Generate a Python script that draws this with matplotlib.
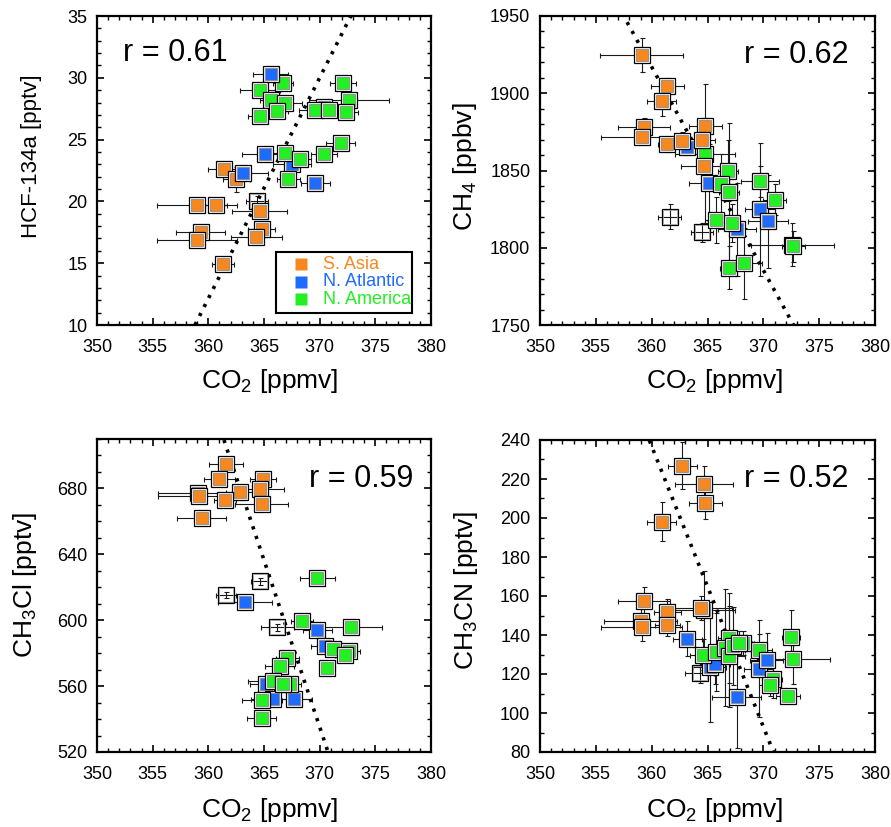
import matplotlib
matplotlib.use("Agg")
import matplotlib.pyplot as plt
from matplotlib.ticker import MultipleLocator
from matplotlib.patches import Rectangle

plt.rcParams['font.family'] = ['Liberation Sans', 'DejaVu Sans']
plt.rcParams['mathtext.fontset'] = 'custom'
plt.rcParams['mathtext.rm'] = 'Liberation Sans'
plt.rcParams['mathtext.it'] = 'Liberation Sans:italic'
plt.rcParams['mathtext.default'] = 'regular'

# ---------------- data ----------------
regions = ['S. Asia', 'N. Atlantic', 'N. America']
region_colors = ['#F7871F', '#1F6BFF', '#22F022']

# Panel 1: HCF-134a vs CO2
tl_sa_x = [361.4, 362.5, 359.0, 360.7, 364.6, 359.3, 359.0, 364.8, 364.3, 361.3]
tl_sa_y = [22.6, 21.8, 19.7, 19.7, 19.2, 17.5, 16.9, 17.8, 17.1, 14.9]
tl_sa_xe = [1.4, 1.2, 3.6, 1.0, 2.5, 2.2, 3.6, 1.2, 2.3, 1.0]
tl_sa_ye = [0.4, 1.0, 0.3, 0.4, 0.5, 0.4, 0.3, 0.4, 0.4, 0.3]
tl_na_x = [370.4, 365.6, 365.1, 363.1, 367.5, 369.6]
tl_na_y = [27.6, 30.3, 23.8, 22.3, 23.0, 21.5]
tl_na_xe = [1.0, 1.6, 2.1, 2.3, 1.7, 1.3]
tl_na_ye = [0.3, 0.3, 0.4, 0.4, 0.5, 0.3]
tl_am_x = [366.7, 364.6, 365.6, 366.9, 366.2, 364.6, 369.6, 370.8, 372.1, 372.6, 372.4, 366.9, 368.2, 370.4, 371.9, 367.2]
tl_am_y = [29.6, 29.0, 28.2, 28.0, 27.3, 26.9, 27.4, 27.4, 29.6, 28.2, 27.2, 23.9, 23.4, 23.8, 24.7, 21.8]
tl_am_xe = [0.9, 1.8, 1.0, 1.5, 1.0, 1.0, 1.5, 1.0, 1.2, 3.6, 1.0, 1.6, 1.0, 1.2, 1.3, 1.0]
tl_am_ye = [0.3, 0.3, 0.3, 0.3, 0.3, 0.3, 0.3, 0.3, 0.3, 0.3, 0.3, 0.3, 0.3, 0.3, 0.3, 0.3]
tl_op_x = [364.4]
tl_op_y = [20.0]
tl_op_xe = [1.0]
tl_op_ye = [0.4]
tl_fit_x = [358.8, 372.8]
tl_fit_y = [10.0, 35.0]

# Panel 2: CH4 vs CO2
tr_sa_x = [359.1, 361.4, 360.9, 359.3, 359.1, 361.4, 362.7, 364.8, 364.5, 364.7]
tr_sa_y = [1925, 1905, 1895, 1878, 1872, 1867, 1869, 1879, 1870, 1853]
tr_sa_xe = [3.7, 1.5, 1.3, 2.3, 3.6, 0.8, 1.0, 1.5, 1.2, 2.1]
tr_sa_ye = [11, 5, 10, 6, 5, 5, 6, 5, 5, 5]
tr_na_x = [363.2, 365.1, 369.7, 370.4, 367.6]
tr_na_y = [1865, 1842, 1825, 1817, 1812]
tr_na_xe = [1.5, 1.8, 1.3, 1.8, 1.7]
tr_na_ye = [5, 25, 43, 30, 30]
tr_am_x = [364.8, 366.8, 366.2, 366.9, 369.7, 371.0, 365.8, 367.2, 372.6, 372.7, 366.9, 368.3]
tr_am_y = [1861, 1850, 1841, 1836, 1843, 1831, 1818, 1816, 1802, 1801, 1787, 1790]
tr_am_xe = [2.7, 0.9, 1.4, 0.9, 1.7, 1.0, 1.0, 1.1, 3.7, 1.0, 0.8, 1.6]
tr_am_ye = [45, 20, 20, 45, 10, 10, 15, 12, 14, 10, 14, 23]
tr_op_x = [361.6, 364.5]
tr_op_y = [1820, 1810]
tr_op_xe = [1.0, 1.0]
tr_op_ye = [8, 6]
tr_fit_x = [357.8, 372.7]
tr_fit_y = [1946, 1750]

# Panel 3: CH3Cl vs CO2
bl_sa_x = [361.6, 361.0, 364.9, 359.1, 359.2, 362.8, 364.6, 361.5, 364.8, 359.4]
bl_sa_y = [695.0, 685.5, 685.5, 677.4, 675.4, 678.0, 679.4, 673.0, 670.7, 661.8]
bl_sa_xe = [1.5, 1.4, 1.2, 3.6, 3.7, 1.2, 2.2, 1.0, 2.4, 2.2]
bl_sa_ye = [3, 3, 3, 3, 3, 3, 3, 3, 3, 3]
bl_na_x = [363.3, 369.8, 370.5, 365.2, 365.8, 367.7]
bl_na_y = [610.8, 594.1, 584.6, 561.0, 552.3, 552.3]
bl_na_xe = [2.4, 1.3, 1.3, 1.5, 2.0, 1.6]
bl_na_ye = [2, 2, 2, 2, 2, 2]
bl_am_x = [369.8, 368.4, 372.8, 371.2, 372.6, 372.3, 370.7, 367.1, 366.4, 365.8, 367.3, 366.7, 364.8, 364.8]
bl_am_y = [625.5, 599.7, 595.7, 582.6, 581.5, 579.1, 571.0, 577.1, 572.5, 563.4, 561.0, 561.0, 551.7, 540.8]
bl_am_xe = [1.6, 1.0, 2.8, 1.0, 1.0, 0.9, 0.7, 1.0, 1.3, 2.2, 1.0, 1.0, 1.8, 1.3]
bl_am_ye = [2, 2, 2, 2, 2, 2, 2, 2, 2, 2, 2, 2, 2, 2]
bl_op_x = [364.6, 361.6, 366.2]
bl_op_y = [623.5, 615.4, 595.7]
bl_op_xe = [0.8, 0.9, 1.5]
bl_op_ye = [2, 2, 2]
bl_fit_x = [361.4, 370.75]
bl_fit_y = [709.4, 520.0]

# Panel 4: CH3CN vs CO2
br_sa_x = [362.75, 364.7, 364.8, 360.9, 359.3, 361.4, 361.4, 359.0, 359.1, 364.4]
br_sa_y = [226.9, 217.5, 207.6, 198.2, 157.6, 151.6, 145.3, 147.4, 144.0, 153.9]
br_sa_xe = [1.3, 2.6, 1.5, 1.3, 2.3, 1.2, 1.1, 3.3, 3.6, 2.8]
br_sa_ye = [12, 9, 8, 10, 7, 7, 6, 7, 7, 6]
br_na_x = [363.2, 365.2, 365.7, 367.6, 369.6, 370.3]
br_na_y = [138.2, 123.5, 124.9, 108.3, 122.8, 127.1]
br_na_xe = [1.3, 1.5, 1.3, 2.2, 1.3, 1.5]
br_na_ye = [9, 28, 10, 26, 25, 14]
br_am_x = [364.7, 372.5, 372.7, 369.6, 368.2, 366.9, 364.6, 365.8, 366.6, 366.9, 367.3, 367.8, 370.9, 370.6, 372.2]
br_am_y = [153.0, 139.0, 127.8, 132.5, 136.0, 138.5, 130.0, 131.2, 133.4, 129.0, 134.6, 136.0, 117.5, 114.6, 108.7]
br_am_xe = [2.8, 0.8, 3.3, 1.2, 1.0, 1.0, 1.2, 1.0, 1.0, 1.5, 1.0, 1.2, 0.8, 1.0, 1.1]
br_am_ye = [20, 14, 13, 8, 6, 23, 8, 20, 30, 26, 20, 6, 10, 6, 3]
br_op_x = [364.3]
br_op_y = [120.6]
br_op_xe = [1.3]
br_op_ye = [5]
br_fit_x = [359.8, 370.9]
br_fit_y = [239.7, 80.0]

r_labels = ['r = 0.61', 'r = 0.62', 'r = 0.59', 'r = 0.52']
y_labels = ['HCF-134a [pptv]', 'CH$_4$ [ppbv]', 'CH$_3$Cl [pptv]', 'CH$_3$CN [pptv]']
x_label = 'CO$_2$ [ppmv]'
x_lim = (350, 380)
y_lims = [(10, 35), (1750, 1950), (520, 710), (80, 240)]
y_major = [5, 50, 40, 20]
y_minor = [1, 10, 10, 10]

# ---------------- layout (pixels) ----------------
W, H = 891, 827
fig = plt.figure(figsize=(W / 100, H / 100), dpi=100)

boxes = [(97, 431, 16, 325), (540, 875, 16, 325), (97, 431, 439, 752), (540, 875, 440, 752)]


def fx(px):
    return px / W


def fy(py):
    return 1 - py / H


panels = [
    [(tl_sa_x, tl_sa_y, tl_sa_xe, tl_sa_ye), (tl_na_x, tl_na_y, tl_na_xe, tl_na_ye),
     (tl_am_x, tl_am_y, tl_am_xe, tl_am_ye), (tl_op_x, tl_op_y, tl_op_xe, tl_op_ye), (tl_fit_x, tl_fit_y)],
    [(tr_sa_x, tr_sa_y, tr_sa_xe, tr_sa_ye), (tr_na_x, tr_na_y, tr_na_xe, tr_na_ye),
     (tr_am_x, tr_am_y, tr_am_xe, tr_am_ye), (tr_op_x, tr_op_y, tr_op_xe, tr_op_ye), (tr_fit_x, tr_fit_y)],
    [(bl_sa_x, bl_sa_y, bl_sa_xe, bl_sa_ye), (bl_na_x, bl_na_y, bl_na_xe, bl_na_ye),
     (bl_am_x, bl_am_y, bl_am_xe, bl_am_ye), (bl_op_x, bl_op_y, bl_op_xe, bl_op_ye), (bl_fit_x, bl_fit_y)],
    [(br_sa_x, br_sa_y, br_sa_xe, br_sa_ye), (br_na_x, br_na_y, br_na_xe, br_na_ye),
     (br_am_x, br_am_y, br_am_xe, br_am_ye), (br_op_x, br_op_y, br_op_xe, br_op_ye), (br_fit_x, br_fit_y)],
]

r_pos = [(123, 61, 'left'), (848, 63, 'right'), (309, 487, 'left'), (848, 487, 'right')]
ylab_pos = [(37, 156, 16), (472, 167, 19), (32, 585, 19), (473, 590, 19)]
xlab_pos = [(270, 388), (715, 388), (270, 817), (715, 817)]

ecol = '#1a1a1a'

for k, (l, r, t, b) in enumerate(boxes):
    ax = fig.add_axes([fx(l), fy(b), fx(r) - fx(l), (b - t) / H])
    groups = panels[k]
    # error bars
    for g in range(4):
        gx, gy, gxe, gye = groups[g]
        ax.errorbar(gx, gy, xerr=gxe, yerr=gye, fmt='none', ecolor=ecol,
                    elinewidth=0.8, capsize=1.8, capthick=0.8, zorder=2)
    # fit line
    fitx, fity = groups[4]
    ax.plot(fitx, fity, color='black', lw=2.6, linestyle=(0, (0.9, 1.9)),
            dash_capstyle='butt', zorder=3)
    # open squares
    ox, oy = groups[3][0], groups[3][1]
    for i in range(len(ox)):
        ax.plot([ox[i]], [oy[i]], 's', ms=11.5, mfc='none', mec='black', mew=0.9, zorder=4)
        ax.plot([ox[i]], [oy[i]], 's', ms=9.8, mfc='none', mec='#9a9a9a', mew=0.6, zorder=4)
    # filled squares
    for g in range(3):
        gx, gy = groups[g][0], groups[g][1]
        for i in range(len(gx)):
            z = 5 + 0.01 * i
            ax.plot([gx[i]], [gy[i]], 's', ms=11.5, mfc='white', mec='black', mew=0.9, zorder=z)
            ax.plot([gx[i]], [gy[i]], 's', ms=9.3, mfc=region_colors[g], mec='#8a8a8a',
                    mew=0.6, zorder=z + 0.001)

    ax.set_xlim(*x_lim)
    ax.set_ylim(*y_lims[k])
    ax.xaxis.set_major_locator(MultipleLocator(5))
    ax.xaxis.set_minor_locator(MultipleLocator(1))
    ax.yaxis.set_major_locator(MultipleLocator(y_major[k]))
    ax.yaxis.set_minor_locator(MultipleLocator(y_minor[k]))
    ax.tick_params(which='both', direction='in', top=True, right=True, labelsize=13)
    ax.tick_params(which='major', length=5, width=1.2)
    ax.tick_params(which='minor', length=3, width=1.0)
    ax.tick_params(axis='x', which='major', pad=10)
    ax.tick_params(axis='y', which='major', pad=7)
    for s in ax.spines.values():
        s.set_linewidth(1.6)

    # r label
    rx, ry, rha = r_pos[k]
    fig.text(fx(rx), fy(ry), r_labels[k], ha=rha, va='baseline', fontsize=22)
    # axis labels
    lx, ly, lfs = ylab_pos[k]
    fig.text(fx(lx), fy(ly), y_labels[k], rotation=90, rotation_mode='anchor',
             ha='center', va='baseline', fontsize=lfs)
    xx, xy = xlab_pos[k]
    fig.text(fx(xx), fy(xy), x_label, ha='center', va='baseline', fontsize=19)

    if k == 0:
        # legend box
        lgx0, lgx1, lgy0, lgy1 = 276, 412, 252, 313
        fig.patches.append(Rectangle((fx(lgx0), fy(lgy1)), fx(lgx1) - fx(lgx0), (lgy1 - lgy0) / H,
                                     transform=fig.transFigure, facecolor='white',
                                     edgecolor='black', linewidth=1.5, zorder=10))
        rows = [264, 282, 299]
        for g in range(3):
            fig.lines.append(plt.Line2D([fx(301)], [fy(rows[g])], marker='s', ms=9,
                                        mfc=region_colors[g], mec='none', linestyle='none',
                                        transform=fig.transFigure, zorder=11))
            fig.text(fx(323), fy(rows[g]), regions[g], color=region_colors[g],
                     ha='left', va='center', fontsize=13, zorder=11)

fig.savefig('out.png', dpi=100)
